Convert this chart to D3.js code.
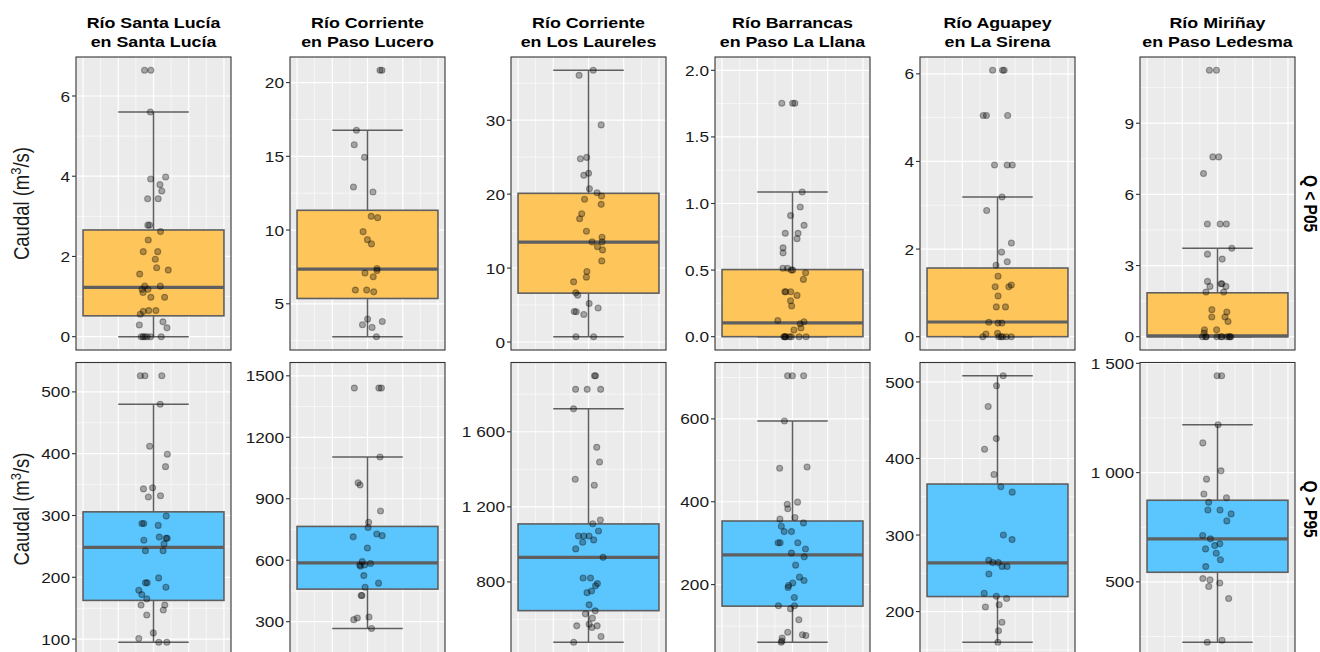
<!DOCTYPE html>
<html>
<head>
<meta charset="utf-8">
<script src="https://cdn.jsdelivr.net/npm/d3@7"></script>
<style>
  body { margin: 0; background: #fff; }
  svg { display: block; }
  text { font-family: "Liberation Sans", Arial, Helvetica, sans-serif; }
</style>
</head>
<body>
<svg id="chart" width="1320" height="652"></svg>
<script>
// ---- Stations (facet columns) and flow regimes (facet rows) ----
const stations = [
  ["Río Santa Lucía", "en Santa Lucía"],
  ["Río Corriente", "en Paso Lucero"],
  ["Río Corriente", "en Los Laureles"],
  ["Río Barrancas", "en Paso La Llana"],
  ["Río Aguapey", "en La Sirena"],
  ["Río Miriñay", "en Paso Ledesma"]
];
const regimes = ["Q < P05", "Q > P95"];

// ---- Observed flows, m3/s: low-flow events (Q < P05) ----
const lowSantaLucia = [6.64, 6.64, 5.60, 3.98, 3.93, 3.79, 3.63, 3.44, 3.44, 2.78, 2.78, 2.62, 2.41, 2.12, 2.12, 1.93, 1.72, 1.66, 1.56, 1.26, 1.26, 1.18, 1.18, 1.10, 0.98, 0.98, 0.65, 0.65, 0.63, 0.56, 0.37, 0.29, 0.22, 0, 0, 0, 0, 0, 0];
const lowPasoLucero = [20.83, 20.83, 16.77, 15.78, 14.93, 12.92, 12.58, 10.93, 10.84, 9.89, 9.35, 9.06, 7.39, 7.25, 7.08, 6.83, 5.93, 5.93, 5.81, 3.96, 3.80, 3.58, 3.40, 2.77];
const lowLosLaureles = [36.75, 36.07, 29.37, 24.97, 24.78, 22.81, 22.54, 20.73, 20.19, 19.74, 19.30, 18.62, 17.35, 16.68, 14.98, 14.17, 13.54, 13.54, 12.90, 12.46, 10.97, 9.53, 8.77, 8.14, 6.65, 6.34, 5.21, 4.59, 4.13, 4.10, 3.72, 0.72, 0.72];
const lowBarrancas = [1.753, 1.753, 1.753, 1.086, 0.974, 0.909, 0.836, 0.776, 0.776, 0.736, 0.667, 0.629, 0.514, 0.514, 0.50, 0.50, 0.48, 0.43, 0.337, 0.337, 0.337, 0.31, 0.27, 0.23, 0.122, 0.112, 0.097, 0.065, 0.05, 0, 0, 0, 0, 0, 0, 0, 0];
const lowAguapey = [6.08, 6.08, 6.08, 5.05, 5.05, 5.05, 3.92, 3.92, 3.92, 3.19, 2.88, 2.14, 1.93, 1.71, 1.63, 1.38, 1.18, 1.14, 1.14, 0.93, 0.68, 0.68, 0.33, 0.31, 0.31, 0.08, 0.06, 0, 0, 0, 0, 0, 0];
const lowMirinay = [11.23, 11.23, 7.58, 7.58, 6.88, 4.75, 4.75, 4.75, 3.73, 3.48, 3.27, 2.33, 2.23, 2.23, 2.12, 2.12, 1.88, 1.88, 1.14, 1.04, 0.83, 0.83, 0.64, 0.29, 0.29, 0.15, 0, 0, 0, 0, 0, 0, 0, 0, 0, 0];

// ---- Observed flows, m3/s: high-flow events (Q > P95) ----
const highSantaLucia = [526, 526, 526, 480, 412, 399, 379, 345, 343, 332, 330, 299, 287, 287, 284, 265, 263, 263, 260, 254, 243, 243, 199, 191, 191, 184, 179, 172, 165, 155, 155, 147, 139, 110, 101, 95, 95];
const highPasoLucero = [1440, 1440, 1440, 1104, 978, 967, 840, 785, 760, 728, 720, 714, 660, 593, 584, 577, 577, 571, 525, 488, 468, 428, 428, 323, 318, 310, 267];
const highLosLaureles = [1898, 1898, 1826, 1826, 1826, 1722, 1517, 1439, 1347, 1315, 1130, 1110, 1071, 1045, 1045, 1045, 1024, 1011, 976, 931, 821, 821, 791, 779, 752, 743, 678, 646, 630, 607, 575, 566, 566, 557, 509, 479];
const highBarrancas = [704, 704, 704, 595, 484, 481, 399, 394, 383, 362, 358, 349, 341, 328, 328, 301, 301, 301, 286, 276, 267, 247, 218, 210, 204, 198, 193, 169, 149, 149, 142, 115, 85, 79, 77, 71, 64, 61];
const highAguapey = [508, 495, 468, 426, 412, 379, 363, 356, 300, 294, 267, 264, 264, 259, 259, 249, 224, 220, 217, 209, 206, 186, 175, 160];
const highMirinay = [1443, 1443, 1219, 1136, 1008, 970, 902, 885, 864, 829, 829, 811, 779, 712, 697, 674, 666, 651, 631, 601, 570, 515, 509, 495, 479, 424, 233, 224];

// ---- Box statistics per station: [lower whisker, Q1, median, Q3, upper whisker] ----
const lowBoxStats = [
  [0, 0.52, 1.23, 2.66, 5.60],
  [2.77, 5.36, 7.35, 11.34, 16.77],
  [0.72, 6.61, 13.50, 20.11, 36.75],
  [0, 0, 0.103, 0.504, 1.086],
  [0, 0, 0.335, 1.567, 3.19],
  [0, 0, 0.03, 1.85, 3.73]
];
const highBoxStats = [
  [95, 162.6, 248.3, 305.9, 480],
  [267, 459, 587, 765, 1104],
  [479, 647, 931, 1109, 1722],
  [61, 148, 271.6, 353.5, 595],
  [160, 219.6, 263.5, 366.6, 508],
  [224, 544, 696.6, 873.6, 1219]
];

// ---- Extra values the y scales are stretched to include ----
const lowScaleLimits = [[], [], [], [0, 2], [], []];
const highScaleLimits = [[], [200, 1500], [], [], [], []];

// ---- Y-axis breaks and their labels ----
const lowTicks = [[0, 2, 4, 6], [5, 10, 15, 20], [0, 10, 20, 30], [0, 0.5, 1, 1.5, 2], [0, 2, 4, 6], [0, 3, 6, 9]];
const lowTickLabels = [["0", "2", "4", "6"], ["5", "10", "15", "20"], ["0", "10", "20", "30"], ["0.0", "0.5", "1.0", "1.5", "2.0"], ["0", "2", "4", "6"], ["0", "3", "6", "9"]];
const highTicks = [[100, 200, 300, 400, 500], [300, 600, 900, 1200, 1500], [800, 1200, 1600], [200, 400, 600], [200, 300, 400, 500], [500, 1000, 1500]];
const highTickLabels = [["100", "200", "300", "400", "500"], ["300", "600", "900", "1200", "1500"], ["800", "1 200", "1 600"], ["200", "400", "600"], ["200", "300", "400", "500"], ["500", "1 000", "1 500"]];

// ---- Assemble the facet rows ----
const rows = [
  { label: regimes[0], fill: "#FEC55B", values: [lowSantaLucia, lowPasoLucero, lowLosLaureles, lowBarrancas, lowAguapey, lowMirinay],
    stats: lowBoxStats, limits: lowScaleLimits, ticks: lowTicks, tickLabels: lowTickLabels },
  { label: regimes[1], fill: "#5BC5FD", values: [highSantaLucia, highPasoLucero, highLosLaureles, highBarrancas, highAguapey, highMirinay],
    stats: highBoxStats, limits: highScaleLimits, ticks: highTicks, tickLabels: highTickLabels }
];

// ---- Layout ----
const panelLeft = [76, 290, 511, 715, 920, 1140];
const panelW = 155;
const rowTop = [57, 362.5];
const panelH = 293;
const sx = 1.15;            // horizontal glyph stretch
const lineCol = "#5f5f5f";

const svg = d3.select("#chart");

// Deterministic jitter (Park–Miller generator)
let seed = 20240611;
function rand() { seed = (seed * 16807) % 2147483647; return (seed - 1) / 2147483646; }

// Shared horizontal scale: box centred on 0, width 0.8, 5% padding
const x0 = d3.scaleLinear().domain([-0.44, 0.44]);
const xMajor = [-0.4, -0.2, 0, 0.2, 0.4];
const xMinor = [-0.3, -0.1, 0.1, 0.3];

function stretchedText(g, x, y, str, opts) {
  const t = g.append("text")
    .attr("transform", `translate(${x},${y}) scale(${sx},1)`)
    .attr("text-anchor", opts.anchor || "middle")
    .attr("font-size", opts.size)
    .attr("font-weight", opts.weight || "normal")
    .attr("fill", opts.fill || "#1a1a1a")
    .text(str);
  if (opts.baseline) t.attr("dominant-baseline", opts.baseline);
  return t;
}

// Column strip titles
stations.forEach((lines, j) => {
  const cx = panelLeft[j] + panelW / 2;
  stretchedText(svg, cx, 28, lines[0], { size: 15.5, weight: "bold", fill: "#000" });
  stretchedText(svg, cx, 47, lines[1], { size: 15.5, weight: "bold", fill: "#000" });
});

rows.forEach((row, i) => {
  const top = rowTop[i];

  // Row strip label on the right
  svg.append("text")
    .attr("transform", `translate(1310,${top + panelH / 2}) rotate(90) scale(1,${sx})`)
    .attr("text-anchor", "middle")
    .attr("dominant-baseline", "central")
    .attr("font-size", 15.5)
    .attr("font-weight", "bold")
    .attr("fill", "#000")
    .text(row.label);

  // Y-axis title
  const title = svg.append("text")
    .attr("transform", `translate(29,${top + panelH / 2}) rotate(-90) scale(1,${sx})`)
    .attr("text-anchor", "middle")
    .attr("font-size", 18.5)
    .attr("fill", "#1a1a1a");
  title.append("tspan").text("Caudal (m");
  title.append("tspan").attr("font-size", 13).attr("dy", -7).text("3");
  title.append("tspan").attr("dy", 7).text("/s)");

  row.values.forEach((vals, j) => {
    const left = panelLeft[j];
    const st = row.stats[j];
    const x = x0.copy().range([left, left + panelW]);

    const ext = d3.extent([...vals, ...st, ...row.limits[j]]);
    const pad = (ext[1] - ext[0]) * 0.05;
    const y = d3.scaleLinear().domain([ext[0] - pad, ext[1] + pad]).range([top + panelH, top]);

    const g = svg.append("g");

    // Panel background
    g.append("rect").attr("x", left).attr("y", top).attr("width", panelW).attr("height", panelH).attr("fill", "#EBEBEB");

    // Grid: minor breaks halfway between majors
    const tk = row.ticks[j];
    const step = tk[1] - tk[0];
    const yMinor = d3.range(tk[0] - step / 2, tk[tk.length - 1] + step, step)
      .filter(v => v > y.domain()[0] && v < y.domain()[1]);
    const yMajor = tk.filter(v => v >= y.domain()[0] && v <= y.domain()[1]);

    g.selectAll(".hmin").data(yMinor).join("line")
      .attr("x1", left).attr("x2", left + panelW)
      .attr("y1", d => y(d)).attr("y2", d => y(d))
      .attr("stroke", "#fff").attr("stroke-width", 0.6);
    g.selectAll(".vmin").data(xMinor).join("line")
      .attr("x1", d => x(d)).attr("x2", d => x(d))
      .attr("y1", top).attr("y2", top + panelH)
      .attr("stroke", "#fff").attr("stroke-width", 0.6);
    g.selectAll(".hmaj").data(yMajor).join("line")
      .attr("x1", left).attr("x2", left + panelW)
      .attr("y1", d => y(d)).attr("y2", d => y(d))
      .attr("stroke", "#fff").attr("stroke-width", 1.2);
    g.selectAll(".vmaj").data(xMajor).join("line")
      .attr("x1", d => x(d)).attr("x2", d => x(d))
      .attr("y1", top).attr("y2", top + panelH)
      .attr("stroke", "#fff").attr("stroke-width", 1.2);

    // Whiskers with caps
    const [lo, q1, med, q3, hi] = st;
    g.append("line").attr("x1", x(0)).attr("x2", x(0)).attr("y1", y(hi)).attr("y2", y(q3))
      .attr("stroke", lineCol).attr("stroke-width", 1.5);
    g.append("line").attr("x1", x(0)).attr("x2", x(0)).attr("y1", y(q1)).attr("y2", y(lo))
      .attr("stroke", lineCol).attr("stroke-width", 1.5);
    [lo, hi].forEach(v => {
      g.append("line").attr("x1", x(-0.2)).attr("x2", x(0.2)).attr("y1", y(v)).attr("y2", y(v))
        .attr("stroke", lineCol).attr("stroke-width", 1.5);
    });

    // Box and median
    g.append("rect")
      .attr("x", x(-0.4)).attr("width", x(0.4) - x(-0.4))
      .attr("y", y(q3)).attr("height", y(q1) - y(q3))
      .attr("fill", row.fill).attr("stroke", lineCol).attr("stroke-width", 1.6);
    g.append("line").attr("x1", x(-0.4)).attr("x2", x(0.4)).attr("y1", y(med)).attr("y2", y(med))
      .attr("stroke", lineCol).attr("stroke-width", 3.2);

    // Jittered observations
    g.selectAll("circle").data(vals).join("circle")
      .attr("cx", () => x((rand() * 2 - 1) * 0.085))
      .attr("cy", d => y(d))
      .attr("r", 3.0)
      .attr("fill", "rgba(0,0,0,0.3)")
      .attr("stroke", "rgba(0,0,0,0.32)")
      .attr("stroke-width", 1.1);

    // Panel border
    g.append("rect").attr("x", left).attr("y", top).attr("width", panelW).attr("height", panelH)
      .attr("fill", "none").attr("stroke", "#333").attr("stroke-width", 1.1);

    // Y axis ticks and labels
    const axis = svg.append("g");
    yMajor.forEach(v => {
      const yy = y(v);
      axis.append("line").attr("x1", left - 4).attr("x2", left).attr("y1", yy).attr("y2", yy)
        .attr("stroke", "#333").attr("stroke-width", 1.1);
      stretchedText(axis, left - 6, yy, row.tickLabels[j][tk.indexOf(v)],
        { size: 15, anchor: "end", baseline: "central", fill: "#1a1a1a" });
    });
  });
});
</script>
</body>
</html>
